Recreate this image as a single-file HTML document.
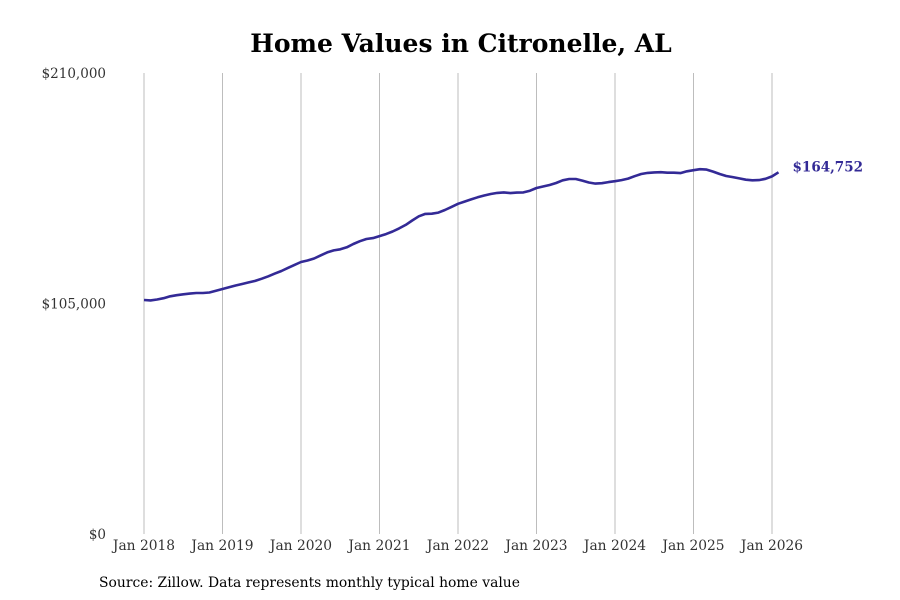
<!DOCTYPE html>
<html><head><meta charset="utf-8"><style>
body{margin:0;background:#fff}
svg{display:block;font-family:"DejaVu Serif",serif}
</style></head><body>
<svg width="900" height="600">
<text x="461" y="52" text-anchor="middle" font-size="25" font-weight="bold">Home Values in Citronelle, AL</text>
<g id="grid"></g><g id="yticks"></g><g id="xticks"></g>
<path id="line" fill="none" stroke="#332a96" stroke-width="2.6" stroke-linejoin="round"/>
<text id="endlabel" font-size="13.5" font-weight="bold" fill="#332a96"></text>
<text x="99" y="587" font-size="13.9">Source: Zillow. Data represents monthly typical home value</text>
</svg>
<script>
const yearLabels=["Jan 2018","Jan 2019","Jan 2020","Jan 2021","Jan 2022","Jan 2023","Jan 2024","Jan 2025","Jan 2026"];
const yTicks=[0,105000,210000];
const yTickLabels=["$0","$105,000","$210,000"];
const values=[106.6,106.4,106.8,107.4,108.3,108.8,109.2,109.5,109.8,109.8,110.0,110.8,
111.6,112.4,113.2,113.9,114.6,115.3,116.3,117.4,118.6,119.8,121.2,122.6,
123.9,124.6,125.5,126.9,128.3,129.2,129.7,130.6,132.1,133.4,134.4,134.8,
135.7,136.6,137.8,139.2,140.8,142.8,144.7,145.8,145.9,146.4,147.6,149.0,
150.4,151.4,152.4,153.4,154.2,154.9,155.4,155.6,155.3,155.5,155.6,156.4,
157.6,158.3,159.0,159.9,161.1,161.7,161.7,161.0,160.1,159.6,159.8,160.3,
160.7,161.2,161.9,163.0,164.0,164.5,164.7,164.8,164.6,164.6,164.4,165.2,
165.7,166.2,166.0,165.1,164.0,163.1,162.6,162.0,161.4,161.1,161.2,161.8,
162.9,164.752];
const endLabel="$164,752";
const NS="http://www.w3.org/2000/svg";
const x=m=>144+m*(628/96);
const y=v=>534-v/210000*461;
const grid=document.getElementById('grid'),xt=document.getElementById('xticks'),yt=document.getElementById('yticks');
yearLabels.forEach((l,i)=>{
 const ln=document.createElementNS(NS,'line');
 ln.setAttribute('x1',x(i*12));ln.setAttribute('x2',x(i*12));ln.setAttribute('y1',73);ln.setAttribute('y2',534);
 ln.setAttribute('stroke','#bdbdbd');ln.setAttribute('stroke-width','1');
 
 
 grid.appendChild(ln);
 const t=document.createElementNS(NS,'text');
 t.setAttribute('x',x(i*12));t.setAttribute('y',550);t.setAttribute('text-anchor','middle');t.setAttribute('font-size','13.8');t.setAttribute('fill','#333');
 t.textContent=l;
 
 
 xt.appendChild(t);
});
yTicks.forEach((v,i)=>{
 const t=document.createElementNS(NS,'text');
 t.setAttribute('x',106);t.setAttribute('y',y(v)+5);t.setAttribute('text-anchor','end');t.setAttribute('font-size','13.5');t.setAttribute('fill','#333');
 t.textContent=yTickLabels[i];
 
 
 yt.appendChild(t);
});
document.getElementById('line').setAttribute('d',values.map((v,i)=>(i?'L':'M')+x(i).toFixed(1)+','+y(v*1000).toFixed(1)).join(''));
const last=values.length-1;
const el=document.getElementById('endlabel');
el.setAttribute('x',x(last)+14);el.setAttribute('y',y(values[last]*1000)-1);
el.textContent=endLabel;
</script>
</body></html>
